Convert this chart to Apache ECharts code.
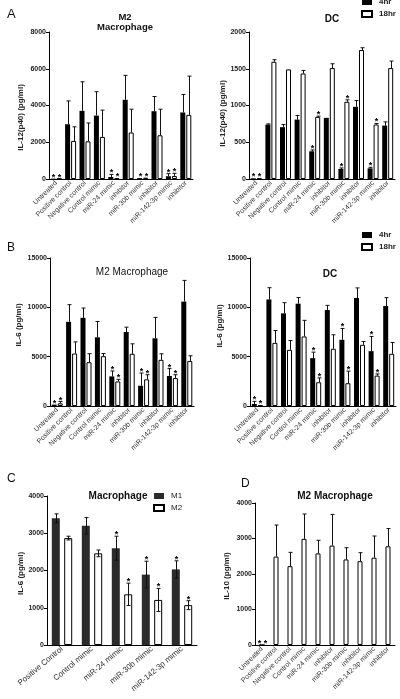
<!DOCTYPE html>
<html><head><meta charset="utf-8">
<script src="https://cdn.jsdelivr.net/npm/echarts@6/dist/echarts.min.js"></script>
<style>html,body{margin:0;padding:0;background:#fff}#c{width:400px;height:699px}</style>
</head><body><div id="c"></div>
<script>
// ---------- data ----------
const cats10 = ['Untreated','Positive control','Negative control','Control mimic','miR-24 mimic','inhibitor','miR-30b mimic','inhibitor','miR-142-3p mimic','inhibitor'];
const catsC = ['Positive Control','Control mimic','miR-24 mimic','miR-30b mimic','miR-142-3p mimic'];

// A: IL-12(p40), M2 macrophage
const aMac4     = [20, 2980, 3710, 3450, 110, 4310, 50, 3690, 150, 3620];
const aMac4Err  = [0, 1270, 1580, 1300, 140, 1330, 0, 800, 140, 980];
const aMac18    = [20, 2070, 2050, 2290, 50, 2530, 70, 2380, 160, 3490];
const aMac18Err = [0, 770, 1000, 1460, 0, 1270, 0, 1420, 150, 2110];
// A: IL-12(p40), DC
const aDc4      = [10, 741, 705, 809, 377, 832, 136, 982, 145, 727];
const aDc4Err   = [0, 9, 36, 55, 18, 0, 14, 86, 14, 50];
const aDc18     = [10, 1595, 1491, 1436, 845, 1509, 1050, 1755, 741, 1509];
const aDc18Err  = [0, 28, 0, 41, 10, 59, 27, 31, 14, 96];
// B: IL-6, M2 macrophage
const bMac4     = [140, 8530, 8940, 6960, 3000, 7500, 2050, 6860, 3040, 10580];
const bMac4Err  = [0, 1740, 990, 1610, 550, 490, 1290, 2120, 750, 2150];
const bMac18    = [270, 5320, 4440, 5050, 2490, 5290, 2700, 4680, 2830, 4570];
const bMac18Err = [180, 1180, 860, 270, 210, 1010, 470, 610, 340, 520];
// B: IL-6, DC
const bDc4      = [200, 10800, 9390, 10370, 4850, 9730, 6710, 10950, 5560, 10130];
const bDc4Err   = [270, 1190, 1080, 630, 610, 470, 1150, 1020, 1490, 850];
const bDc18     = [50, 6400, 5690, 7050, 2410, 5800, 2310, 6200, 3080, 5290];
const bDc18Err  = [0, 1250, 950, 1630, 440, 1420, 1220, 340, 170, 1150];
// significance marks (1 = '*')
const sig10     = [1, 0, 0, 0, 1, 0, 1, 0, 1, 0];
// C: IL-6, macrophage M1 / M2
const cM1       = [3400, 3200, 2600, 1890, 2030];
const cM1Err    = [120, 220, 320, 360, 230];
const cM2       = [2870, 2460, 1360, 1210, 1070];
const cM2Err    = [50, 90, 300, 310, 120];
const sigC      = [0, 0, 1, 1, 1];
// D: IL-10, M2 macrophage
const dM2       = [0, 2490, 2220, 2990, 2580, 2800, 2410, 2360, 2460, 2780];
const dM2Err    = [0, 890, 390, 700, 370, 880, 330, 240, 610, 500];
const sigD      = [2, 0, 0, 0, 0, 0, 0, 0, 0, 0];

// ---------- helpers ----------
const FONT = 'Liberation Sans, Arial, sans-serif';
const grids = [
  {left:49, top:32, width:144, height:147},
  {left:249, top:32, width:146, height:147},
  {left:50, top:258, width:144, height:148},
  {left:250, top:258, width:146, height:148},
  {left:47, top:496, width:150, height:149},
  {left:255, top:503, width:140, height:142}
];
function xAx(g, data, rot, fs){
  return {type:'category', gridIndex:g, data:data,
    axisLine:{lineStyle:{color:'#000', width:1}},
    axisTick:{alignWithLabel:true, length:3, lineStyle:{color:'#000'}},
    axisLabel:{interval:0, rotate:rot, fontSize:fs, color:'#333', margin:3, fontFamily:FONT},
    splitLine:{show:false}};
}
function yAx(g, max, interval, name, gap, pad){
  return {type:'value', gridIndex:g, min:0, max:max, interval:interval,
    name:name, nameLocation:'middle', nameGap:gap,
    nameTextStyle:{fontSize:8, fontWeight:'bold', color:'#222', fontFamily:FONT, padding:pad},
    axisLine:{show:true, lineStyle:{color:'#000', width:1}},
    axisTick:{show:true, length:3, lineStyle:{color:'#000'}},
    axisLabel:{fontSize:7, fontWeight:'bold', color:'#222', margin:3, fontFamily:FONT,
      formatter:function(v){return String(v);}},
    splitLine:{show:false}};
}
const blackStyle = {color:'#000'};
const whiteStyle = {color:'#fff', borderColor:'#000', borderWidth:1};
const m1Style = {color:'#2b2b2b'};
function bar(name, g, vals, style, bw, gap){
  return {type:'bar', name:name, xAxisIndex:g, yAxisIndex:g, data:vals, itemStyle:style,
    barWidth:bw, barGap:gap, silent:true, z:2};
}
function err(g, vals, errs, sigs, offset, both){
  return {type:'custom', xAxisIndex:g, yAxisIndex:g, z:5, silent:true,
    data: vals.map((v,i)=>[i, v, errs[i], sigs[i]]),
    renderItem:function(params, api){
      const i=api.value(0), v=api.value(1), e=api.value(2), s=api.value(3);
      const p0=api.coord([i,v]), p1=api.coord([i,v+e]), pb=api.coord([i,Math.max(0,v-e)]);
      const cx=Math.round(p0[0]+offset)+0.5;
      const ls={stroke:'#111', lineWidth:1};
      const ch=[];
      if(e>0){
        ch.push({type:'line', shape:{x1:cx,y1:both?pb[1]:p0[1],x2:cx,y2:p1[1]}, style:ls});
        ch.push({type:'line', shape:{x1:cx-2,y1:p1[1],x2:cx+2,y2:p1[1]}, style:ls});
        if(both) ch.push({type:'line', shape:{x1:cx-2,y1:pb[1],x2:cx+2,y2:pb[1]}, style:ls});
      }
      if(s){
        ch.push({type:'text', x:cx, y:p1[1]+3, style:{text:s===2?'* *':'*', fill:'#000',
          font:'bold 9px '+FONT, textAlign:'center', textVerticalAlign:'bottom'}});
      }
      return {type:'group', children:ch};
    }};
}
const tStyle = (w, fs)=>({fontSize:fs, fontWeight:w, color:'#111', fontFamily:FONT, lineHeight:fs});
const legendBase = {orient:'vertical', itemWidth:10, itemHeight:6, itemGap:4, padding:0, icon:'rect',
  selectedMode:false, textStyle:{fontSize:8, fontWeight:'bold', color:'#222', fontFamily:FONT, padding:[0,0,0,2]}};

const option = {
  animation:false,
  backgroundColor:'#fff',
  title:[
    {text:'A', left:2, top:3, textStyle:tStyle('normal',13)},
    {text:'M2\nMacrophage', left:120, top:7, textAlign:'center', textStyle:{...tStyle('bold',9.5), lineHeight:10}},
    {text:'DC', left:327, top:9, textAlign:'center', textStyle:tStyle('bold',10)},
    {text:'B', left:2, top:237, textStyle:tStyle('normal',12)},
    {text:'M2 Macrophage', left:127, top:262, textAlign:'center', textStyle:tStyle('normal',10)},
    {text:'DC', left:325, top:264, textAlign:'center', textStyle:tStyle('bold',10)},
    {text:'C', left:2, top:468, textStyle:tStyle('normal',12)},
    {text:'Macrophage', left:113, top:486, textAlign:'center', textStyle:tStyle('bold',10)},
    {text:'D', left:236, top:473, textStyle:tStyle('normal',12)},
    {text:'M2 Macrophage', left:330, top:486, textAlign:'center', textStyle:tStyle('bold',10)}
  ],
  legend:[
    {...legendBase, data:['4hr','18hr'], left:361, top:-2},
    {...legendBase, data:['4hr','18hr'], left:361, top:231},
    {...legendBase, data:['M1','M2'], left:153, top:492, textStyle:{...legendBase.textStyle, fontWeight:'normal'}}
  ],
  grid:grids,
  xAxis:[xAx(0,cats10,45,7), xAx(1,cats10,45,7), xAx(2,cats10,45,7), xAx(3,cats10,45,7), xAx(4,catsC,40,8), xAx(5,cats10,45,7)],
  yAxis:[
    yAx(0,8000,2000,'IL-12(p40) (pg/ml)',24,[0,24,0,0]),
    yAx(1,2000,500,'IL-12(p40) (pg/ml)',19,[0,16,0,0]),
    yAx(2,15000,5000,'IL-6 (pg/ml)',27,[0,0,0,14]),
    yAx(3,15000,5000,'IL-6 (pg/ml)',23,[0,0,0,12]),
    yAx(4,4000,1000,'IL-6 (pg/ml)',21,[0,6,0,0]),
    yAx(5,4000,1000,'IL-10 (pg/ml)',24,[0,4,0,0])
  ],
  series:[
    bar('4hr',0,aMac4,blackStyle,5,'20%'), bar('18hr',0,aMac18,whiteStyle,5,'20%'),
    err(0,aMac4,aMac4Err,sig10,-3,false), err(0,aMac18,aMac18Err,sig10,3,false),
    bar('4hr',1,aDc4,blackStyle,5,'20%'), bar('18hr',1,aDc18,whiteStyle,5,'20%'),
    err(1,aDc4,aDc4Err,sig10,-3,false), err(1,aDc18,aDc18Err,sig10,3,false),
    bar('4hr',2,bMac4,blackStyle,5,'20%'), bar('18hr',2,bMac18,whiteStyle,5,'20%'),
    err(2,bMac4,bMac4Err,sig10,-3,false), err(2,bMac18,bMac18Err,sig10,3,false),
    bar('4hr',3,bDc4,blackStyle,5,'20%'), bar('18hr',3,bDc18,whiteStyle,5,'20%'),
    err(3,bDc4,bDc4Err,sig10,-3,false), err(3,bDc18,bDc18Err,sig10,3,false),
    bar('M1',4,cM1,m1Style,8,'55%'), bar('M2',4,cM2,whiteStyle,8,'55%'),
    err(4,cM1,cM1Err,sigC,-6,true), err(4,cM2,cM2Err,sigC,6,true),
    bar('IL-10',5,dM2,whiteStyle,5,'20%'),
    err(5,dM2,dM2Err,sigD,0,false)
  ]
};
const chart = echarts.init(document.getElementById('c'), null, {renderer:'canvas'});
chart.setOption(option);
</script>
</body></html>
